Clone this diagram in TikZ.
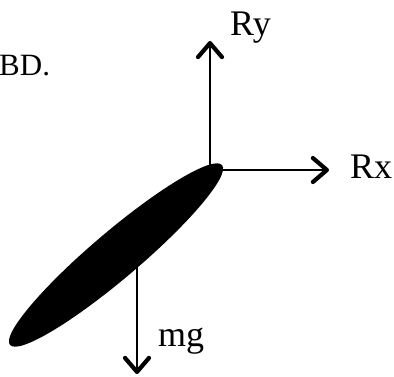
\documentclass[tikz,border=0pt]{standalone}
\usepackage{fontspec}
\setmainfont{Liberation Serif}
\usetikzlibrary{arrows.meta}
\begin{document}
\begin{tikzpicture}[x=1pt,y=-1pt,
  force/.style={line width=2pt,-{Straight Barb[length=14pt,width=24pt,line width=4.2pt,round]}},
  lbl/.style={anchor=base west,inner sep=0pt,font=\fontsize{36}{40}\selectfont}]
\useasboundingbox (0,0) rectangle (394,376);
\fill[rotate around={40.3:(116,255)}] (116,255) ellipse [x radius=139, y radius=23.5];
\coordinate (o) at (210,170);
\coordinate (ry) at (210,41);
\coordinate (rx) at (329,170);
\coordinate (g0) at (137,266);
\coordinate (g1) at (137,374);
\draw[force] (o) -- (ry);
\draw[force] (o) -- (rx);
\draw[force] (g0) -- (g1);
\node[lbl] (lry) at (230,35) {Ry};
\node[lbl] (lrx) at (350,178) {Rx};
\node[lbl] (lmg) at (158,346) {mg};
\node[lbl,font=\fontsize{31}{34}\selectfont] (lbd) at (-1,75) {BD.};
\end{tikzpicture}
\end{document}
